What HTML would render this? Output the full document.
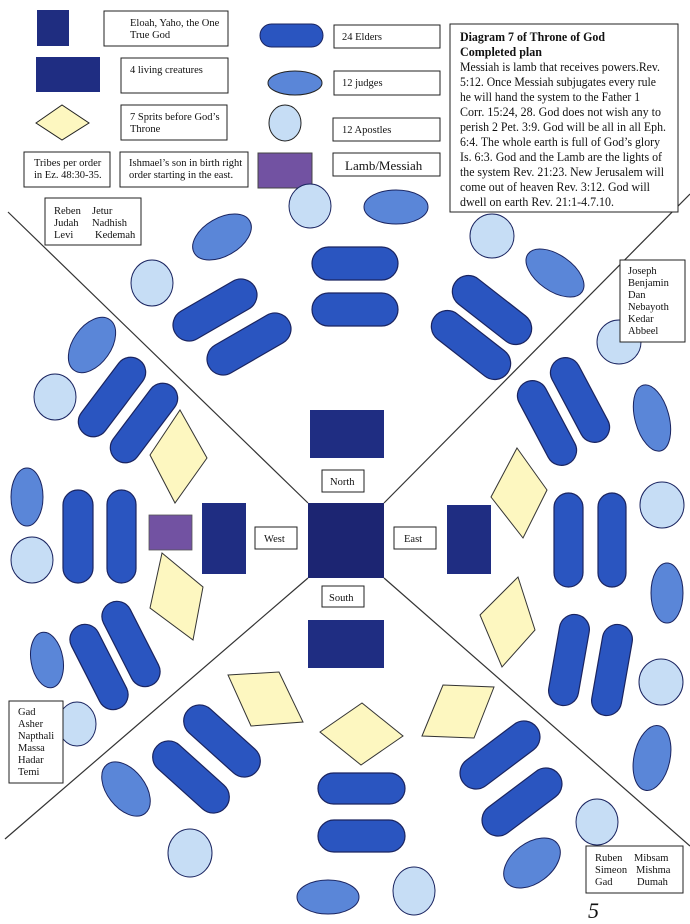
<!DOCTYPE html>
<html><head><meta charset="utf-8"><style>
html,body{margin:0;padding:0;background:#fff;}
svg{display:block;}
text{font-family:"Liberation Serif",serif;fill:#111;}
</style></head><body>
<svg width="690" height="924" viewBox="0 0 690 924" xmlns="http://www.w3.org/2000/svg">
<defs>
<rect id="ph" x="-46" y="-16" width="92" height="32" rx="16" fill="#2a55c0" stroke="#1a2460" stroke-width="1.2"/>
<rect id="pv" x="-15" y="-46" width="30" height="92" rx="15" fill="#2a55c0" stroke="#1a2460" stroke-width="1.2"/>
</defs>
<g stroke="#333" stroke-width="1.2" fill="none">
<line x1="8" y1="212" x2="308" y2="503"/>
<line x1="690" y1="194" x2="384" y2="503"/>
<line x1="5" y1="839" x2="308" y2="578"/>
<line x1="384" y1="578" x2="690" y2="846"/>
</g>

<!-- Legend -->
<g stroke="#222" stroke-width="1">
<rect x="37" y="10" width="32" height="36" fill="#1f2d80" stroke="none"/>
<rect x="104" y="11" width="124" height="35" fill="#fff"/>
<rect x="36" y="57" width="64" height="35" fill="#1f2d82" stroke="none"/>
<rect x="121" y="58" width="107" height="35" fill="#fff"/>
<polygon points="36,123 62,105 89,123 62,140" fill="#fdf7c0"/>
<rect x="121" y="105" width="106" height="35" fill="#fff"/>
<rect x="24" y="152" width="86" height="35" fill="#fff"/>
<rect x="120" y="152" width="128" height="35" fill="#fff"/>
<rect x="260" y="24" width="63" height="23" rx="11.5" fill="#2a55c0" stroke="#1a2460"/>
<rect x="334" y="25" width="106" height="23" fill="#fff"/>
<ellipse cx="295" cy="83" rx="27" ry="12" fill="#5a86d8"/>
<rect x="334" y="71" width="106" height="24" fill="#fff"/>
<ellipse cx="285" cy="123" rx="16" ry="18" fill="#c6ddf5"/>
<rect x="333" y="118" width="107" height="23" fill="#fff"/>
<rect x="258" y="153" width="54" height="35" fill="#7252a2" stroke="#444"/>
<rect x="333" y="153" width="107" height="23" fill="#fff"/>
<rect x="450" y="24" width="228" height="188" fill="#fff"/>
<rect x="45" y="198" width="96" height="47" fill="#fff"/>
</g>
<g font-size="10.5">
<text x="130" y="26">Eloah, Yaho, the One</text>
<text x="130" y="38">True God</text>
<text x="130" y="73">4 living creatures</text>
<text x="130" y="120">7 Sprits before God’s</text>
<text x="130" y="132">Throne</text>
<text x="34" y="166">Tribes per order</text>
<text x="34" y="178">in Ez. 48:30-35.</text>
<text x="129" y="166">Ishmael’s son in birth right</text>
<text x="129" y="178">order starting in the east.</text>
<text x="342" y="40">24 Elders</text>
<text x="342" y="86">12 judges</text>
<text x="342" y="133">12 Apostles</text>
<text x="345" y="170" font-size="13">Lamb/Messiah</text>
<text x="54" y="214">Reben</text><text x="92" y="214">Jetur</text>
<text x="54" y="226">Judah</text><text x="92" y="226">Nadhish</text>
<text x="54" y="238">Levi</text><text x="95" y="238">Kedemah</text>
</g>
<g font-size="12.5">
<text x="460" y="41" font-weight="bold" textLength="145" lengthAdjust="spacingAndGlyphs">Diagram 7 of Throne of God</text>
<text x="460" y="56" font-weight="bold" textLength="82" lengthAdjust="spacingAndGlyphs">Completed plan</text>
<text x="460" y="71" textLength="200" lengthAdjust="spacingAndGlyphs">Messiah is lamb that receives powers.Rev.</text>
<text x="460" y="86" textLength="196" lengthAdjust="spacingAndGlyphs">5:12. Once Messiah subjugates every rule</text>
<text x="460" y="101" textLength="180" lengthAdjust="spacingAndGlyphs">he will hand the system to the Father 1</text>
<text x="460" y="116" textLength="201" lengthAdjust="spacingAndGlyphs">Corr. 15:24, 28. God does not wish any to</text>
<text x="460" y="131" textLength="206" lengthAdjust="spacingAndGlyphs">perish 2 Pet. 3:9. God will be all in all Eph.</text>
<text x="460" y="146" textLength="200" lengthAdjust="spacingAndGlyphs">6:4. The whole earth is full of God’s glory</text>
<text x="460" y="161" textLength="202" lengthAdjust="spacingAndGlyphs">Is. 6:3. God and the Lamb are the lights of</text>
<text x="460" y="176" textLength="204" lengthAdjust="spacingAndGlyphs">the system Rev. 21:23. New Jerusalem will</text>
<text x="460" y="191" textLength="190" lengthAdjust="spacingAndGlyphs">come out of heaven Rev. 3:12. God will</text>
<text x="460" y="206" textLength="154" lengthAdjust="spacingAndGlyphs">dwell on earth Rev. 21:1-4.7.10.</text>
</g>

<!-- Center -->
<g>
<rect x="308" y="503" width="76" height="75" fill="#1c2572"/>
<rect x="310" y="410" width="74" height="48" fill="#1f2d82"/>
<rect x="308" y="620" width="76" height="48" fill="#1f2d82"/>
<rect x="202" y="503" width="44" height="71" fill="#1f2d82"/>
<rect x="447" y="505" width="44" height="69" fill="#1f2d82"/>
<rect x="149" y="515" width="43" height="35" fill="#7252a2" stroke="#555" stroke-width="0.8"/>
</g>
<g stroke="#222" stroke-width="1" fill="#fff">
<rect x="322" y="470" width="42" height="22"/>
<rect x="322" y="586" width="42" height="21"/>
<rect x="255" y="527" width="42" height="22"/>
<rect x="394" y="527" width="42" height="22"/>
</g>
<g font-size="10.5">
<text x="330" y="485">North</text>
<text x="329" y="601">South</text>
<text x="264" y="542">West</text>
<text x="404" y="542">East</text>
</g>

<!-- Diamonds -->
<g fill="#fdf7c0" stroke="#333" stroke-width="1">
<polygon points="180,410 207,458 175,503 150,455"/>
<polygon points="162,553 203,587 193,640 150,608"/>
<polygon points="517,448 547,490 523,538 491,497"/>
<polygon points="518,577 535,630 502,667 480,615"/>
<polygon points="228,675 279,672 303,722 251,726"/>
<polygon points="320,732 362,703 403,736 361,765"/>
<polygon points="422,736 443,685 494,687 474,738"/>
</g>

<!-- Pills -->
<g>
<rect x="312" y="247" width="86" height="33" rx="16.5" fill="#2a55c0" stroke="#1a2460" stroke-width="1.2"/>
<rect x="312" y="293" width="86" height="33" rx="16.5" fill="#2a55c0" stroke="#1a2460" stroke-width="1.2"/>
<rect x="318" y="773" width="87" height="31" rx="15.5" fill="#2a55c0" stroke="#1a2460" stroke-width="1.2"/>
<rect x="318" y="820" width="87" height="32" rx="16" fill="#2a55c0" stroke="#1a2460" stroke-width="1.2"/>
<use href="#ph" transform="translate(215,310) rotate(-30)"/>
<use href="#ph" transform="translate(249,344) rotate(-30)"/>
<use href="#ph" transform="translate(492,310) rotate(38)"/>
<use href="#ph" transform="translate(471,345) rotate(38)"/>
<use href="#pv" transform="translate(112,397) rotate(37)"/>
<use href="#pv" transform="translate(144,423) rotate(37)"/>
<use href="#pv" transform="translate(547,423) rotate(-28)"/>
<use href="#pv" transform="translate(580,400) rotate(-28)"/>
<rect x="63" y="490" width="30" height="93" rx="15" fill="#2a55c0" stroke="#1a2460" stroke-width="1.2"/>
<rect x="107" y="490" width="29" height="93" rx="14.5" fill="#2a55c0" stroke="#1a2460" stroke-width="1.2"/>
<rect x="554" y="493" width="29" height="94" rx="14.5" fill="#2a55c0" stroke="#1a2460" stroke-width="1.2"/>
<rect x="598" y="493" width="28" height="94" rx="14" fill="#2a55c0" stroke="#1a2460" stroke-width="1.2"/>
<use href="#pv" transform="translate(99,667) rotate(-27)"/>
<use href="#pv" transform="translate(131,644) rotate(-27)"/>
<use href="#ph" transform="translate(191,777) rotate(42)"/>
<use href="#ph" transform="translate(222,741) rotate(42)"/>
<use href="#ph" transform="translate(500,755) rotate(-37)"/>
<use href="#ph" transform="translate(522,802) rotate(-37)"/>
<use href="#pv" transform="translate(569,660) rotate(10)"/>
<use href="#pv" transform="translate(612,670) rotate(10)"/>
</g>

<!-- Ellipses (judges) -->
<g fill="#5a86d8" stroke="#1a2460" stroke-width="1">
<ellipse cx="396" cy="207" rx="32" ry="17"/>
<ellipse cx="222" cy="237" rx="32" ry="19" transform="rotate(-30 222 237)"/>
<ellipse cx="555" cy="273" rx="33" ry="18" transform="rotate(35 555 273)"/>
<ellipse cx="92" cy="345" rx="31" ry="19" transform="rotate(-55 92 345)"/>
<ellipse cx="27" cy="497" rx="16" ry="29"/>
<ellipse cx="652" cy="418" rx="17" ry="34" transform="rotate(-15 652 418)"/>
<ellipse cx="667" cy="593" rx="16" ry="30"/>
<ellipse cx="47" cy="660" rx="16" ry="28" transform="rotate(-10 47 660)"/>
<ellipse cx="126" cy="789" rx="31" ry="19" transform="rotate(52 126 789)"/>
<ellipse cx="328" cy="897" rx="31" ry="17"/>
<ellipse cx="532" cy="863" rx="32" ry="20" transform="rotate(-37 532 863)"/>
<ellipse cx="652" cy="758" rx="18" ry="33" transform="rotate(12 652 758)"/>
</g>
<!-- Circles (apostles) -->
<g fill="#c6ddf5" stroke="#1a2460" stroke-width="1">
<ellipse cx="310" cy="206" rx="21" ry="22"/>
<ellipse cx="492" cy="236" rx="22" ry="22"/>
<ellipse cx="152" cy="283" rx="21" ry="23"/>
<ellipse cx="619" cy="342" rx="22" ry="22"/>
<ellipse cx="55" cy="397" rx="21" ry="23"/>
<ellipse cx="32" cy="560" rx="21" ry="23"/>
<ellipse cx="662" cy="505" rx="22" ry="23"/>
<ellipse cx="77" cy="724" rx="19" ry="22"/>
<ellipse cx="190" cy="853" rx="22" ry="24"/>
<ellipse cx="414" cy="891" rx="21" ry="24"/>
<ellipse cx="597" cy="822" rx="21" ry="23"/>
<ellipse cx="661" cy="682" rx="22" ry="23"/>
</g>

<!-- Tribe boxes -->
<g stroke="#222" stroke-width="1" fill="#fff">
<rect x="620" y="260" width="65" height="82"/>
<rect x="9" y="701" width="54" height="82"/>
<rect x="586" y="846" width="97" height="47"/>
</g>
<g font-size="10.5">
<text x="628" y="274">Joseph</text>
<text x="628" y="286">Benjamin</text>
<text x="628" y="298">Dan</text>
<text x="628" y="310">Nebayoth</text>
<text x="628" y="322">Kedar</text>
<text x="628" y="334">Abbeel</text>
<text x="18" y="715">Gad</text>
<text x="18" y="727">Asher</text>
<text x="18" y="739">Napthali</text>
<text x="18" y="751">Massa</text>
<text x="18" y="763">Hadar</text>
<text x="18" y="775">Temi</text>
<text x="595" y="861">Ruben</text><text x="634" y="861">Mibsam</text>
<text x="595" y="873">Simeon</text><text x="636" y="873">Mishma</text>
<text x="595" y="885">Gad</text><text x="637" y="885">Dumah</text>
</g>
<text x="588" y="918" font-size="22" font-style="italic">5</text>
</svg>
</body></html>
